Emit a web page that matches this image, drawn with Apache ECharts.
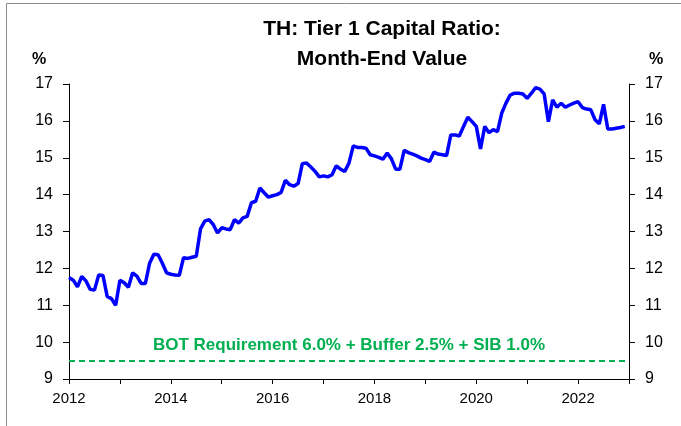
<!DOCTYPE html>
<html>
<head>
<meta charset="utf-8">
<title>TH: Tier 1 Capital Ratio</title>
<script src="https://cdn.jsdelivr.net/npm/echarts@6/dist/echarts.min.js"></script>
<style>
  html, body { margin: 0; padding: 0; background: #fff; }
  #chart { width: 681px; height: 426px; }
</style>
</head>
<body>
<div id="chart"></div>
<script>
// Monthly Tier 1 capital ratio (%), Jan 2012 .. Dec 2022
const startYear = 2012;
const tier1 = [
  11.75, 11.68, 11.50, 11.78, 11.66, 11.43, 11.41, 11.82, 11.81, 11.24, 11.18, 11.00,
  11.68, 11.61, 11.49, 11.88, 11.79, 11.59, 11.59, 12.14, 12.38, 12.37, 12.14, 11.88,
  11.84, 11.82, 11.81, 12.29, 12.27, 12.30, 12.33, 13.07, 13.28, 13.32, 13.19, 12.96,
  13.10, 13.07, 13.05, 13.32, 13.23, 13.37, 13.41, 13.78, 13.82, 14.18, 14.05, 13.93,
  13.97, 14.00, 14.06, 14.39, 14.27, 14.23, 14.30, 14.84, 14.86, 14.75, 14.63, 14.48,
  14.51, 14.48, 14.54, 14.78, 14.69, 14.63, 14.86, 15.32, 15.28, 15.28, 15.26, 15.08,
  15.05, 15.01, 14.96, 15.13, 14.97, 14.69, 14.69, 15.20, 15.14, 15.10, 15.05, 14.99,
  14.95, 14.90, 15.15, 15.10, 15.08, 15.06, 15.62, 15.62, 15.59, 15.85, 16.10, 15.98,
  15.85, 15.24, 15.85, 15.68, 15.76, 15.71, 16.21, 16.48, 16.70, 16.75, 16.75, 16.73,
  16.61, 16.75, 16.90, 16.86, 16.73, 15.98, 16.57, 16.37, 16.48, 16.37, 16.43, 16.48,
  16.52, 16.36, 16.32, 16.30, 16.03, 15.92, 16.45, 15.78, 15.78, 15.80, 15.82, 15.85,
];
const requirement = 9.5; // 6.0 + 2.5 + 1.0
const requirementLabel = 'BOT Requirement 6.0% + Buffer 2.5% + SIB 1.0%';
const yearTicks = [2012, 2014, 2016, 2018, 2020, 2022];

const font = '"Liberation Sans", Arial, sans-serif';
const axisColor = '#000';

const chart = echarts.init(document.getElementById('chart'));

const points = tier1.map((v, i) => [startYear + i / 12, v]);

const yAxisBase = {
  type: 'value',
  min: 9,
  max: 17,
  interval: 1,
  splitLine: { show: false },
  axisLine: { show: true, lineStyle: { color: axisColor, width: 1 } },
  axisTick: { show: true, length: 6, lineStyle: { color: axisColor } },
  axisLabel: { color: '#000', fontSize: 16, fontFamily: font, margin: 16 },
};

chart.setOption({
  animation: false,
  title: {
    text: 'TH: Tier 1 Capital Ratio:\nMonth-End Value',
    left: 377,
    top: 9,
    textAlign: 'center',
    textStyle: {
      fontSize: 21,
      fontWeight: 'bold',
      fontFamily: font,
      color: '#000',
      lineHeight: 30,
    },
  },
  grid: {
    left: 69,
    right: 52,
    top: 84,
    bottom: 47,
  },
  graphic: [
    {
      type: 'rect',
      shape: { x: 6.5, y: 3.5, width: 700, height: 500 },
      style: { fill: 'none', stroke: '#8c8c8c', lineWidth: 1 },
    },
    {
      type: 'text',
      left: 32,
      top: 52,
      style: { text: '%', fontSize: 16, fontWeight: 'bold', fontFamily: font, fill: '#000' },
    },
    {
      type: 'text',
      left: 649,
      top: 52,
      style: { text: '%', fontSize: 16, fontWeight: 'bold', fontFamily: font, fill: '#000' },
    },
  ],
  xAxis: {
    type: 'value',
    min: 2012,
    max: 2023,
    interval: 1,
    splitLine: { show: false },
    axisLine: { show: true, lineStyle: { color: axisColor, width: 1 } },
    axisTick: { show: true, length: 5, lineStyle: { color: axisColor } },
    axisLabel: {
      color: '#000',
      fontSize: 15,
      fontFamily: font,
      margin: 12,
      formatter: (v) => (yearTicks.includes(v) ? String(v) : ''),
    },
  },
  yAxis: [
    { ...yAxisBase, position: 'left' },
    { ...yAxisBase, position: 'right' },
  ],
  series: [
    {
      name: 'Tier 1 Capital Ratio',
      type: 'line',
      data: points,
      showSymbol: false,
      lineStyle: { color: '#0000ff', width: 3.5 },
      itemStyle: { color: '#0000ff' },
      markLine: {
        silent: true,
        symbol: 'none',
        lineStyle: { color: '#00b050', width: 2, type: [6, 4] },
        label: {
          show: true,
          position: 'insideMiddleTop',
          formatter: requirementLabel,
          color: '#00b050',
          fontSize: 17,
          fontWeight: 'bold',
          fontFamily: font,
          distance: 7,
        },
        data: [{ yAxis: requirement }],
      },
    },
  ],
});
</script>
</body>
</html>
